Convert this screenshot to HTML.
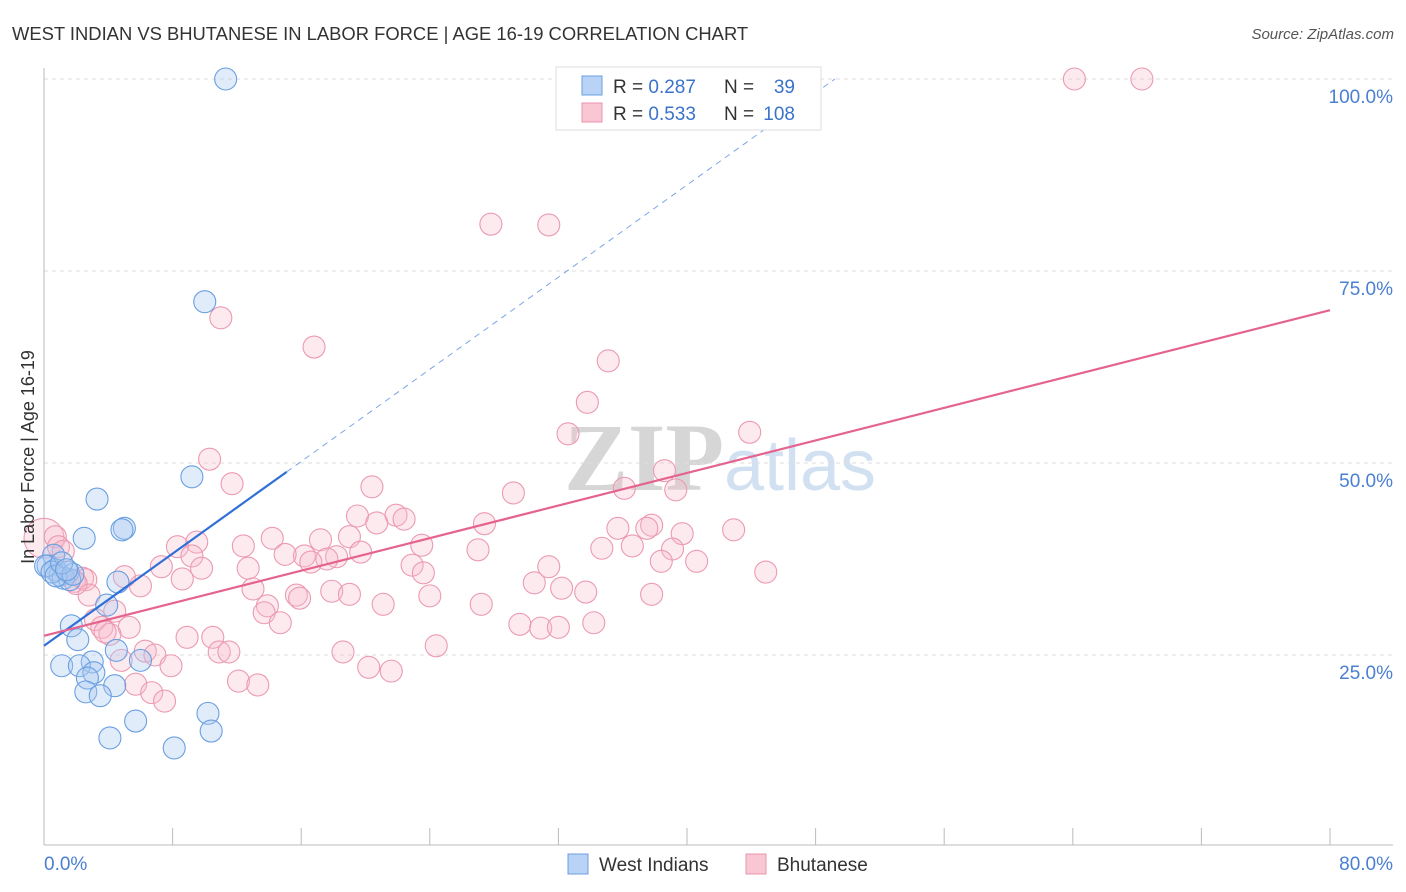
<!DOCTYPE html>
<html><head><meta charset="utf-8"><style>
body{margin:0;background:#fff;font-family:"Liberation Sans",sans-serif}
#c{position:relative;width:1406px;height:892px;overflow:hidden}
</style></head><body>
<div id="c">
<svg id="s" width="1406" height="892" xmlns="http://www.w3.org/2000/svg">
<text x="12" y="40" font-size="18.4" fill="#333">WEST INDIAN VS BHUTANESE IN LABOR FORCE | AGE 16-19 CORRELATION CHART</text>
<text x="1394" y="39" font-size="15" fill="#555" font-style="italic" text-anchor="end">Source: ZipAtlas.com</text>
<text x="720" y="490" font-size="96" fill="#d8d8d8" text-anchor="middle" font-family="Liberation Serif,serif"><tspan fill="#d6d6d6" font-weight="bold">ZIP</tspan><tspan fill="#d2e1f2" font-family="Liberation Sans,sans-serif" font-size="72">atlas</tspan></text>
<g id="grid"></g><g id="marks"></g><g id="lines"></g>
<text transform="translate(34,457) rotate(-90)" font-size="18" fill="#333" text-anchor="middle">In Labor Force | Age 16-19</text>
<g>
<rect x="556" y="67" width="265" height="63" fill="#fff" stroke="#ddd"/>
<rect x="582" y="76" width="20" height="19" fill="#b8d3f5" stroke="#6a9fe0"/>
<rect x="582" y="103" width="20" height="19" fill="#f9c6d4" stroke="#eb94ad"/>
<text x="613" y="93" font-size="19" fill="#333">R = <tspan fill="#3a73c9">0.287</tspan></text>
<text x="724" y="93" font-size="19" fill="#333">N =</text>
<text x="795" y="93" font-size="19" fill="#3a73c9" text-anchor="end">39</text>
<text x="613" y="120" font-size="19" fill="#333">R = <tspan fill="#3a73c9">0.533</tspan></text>
<text x="724" y="120" font-size="19" fill="#333">N =</text>
<text x="795" y="120" font-size="19" fill="#3a73c9" text-anchor="end">108</text>
</g>
<g>
<rect x="568" y="854" width="20" height="20" fill="#b8d3f5" stroke="#6a9fe0"/>
<text x="599" y="871" font-size="19" fill="#333">West Indians</text>
<rect x="746" y="854" width="20" height="20" fill="#f9c6d4" stroke="#eb94ad"/>
<text x="777" y="871" font-size="19" fill="#333">Bhutanese</text>
</g>
</svg></div>
<script>
const xTicks=[0,10,20,30,40,50,60,70,80];
const yTicks=[25,50,75,100];
const xLabels=["0.0%","80.0%"];
const blueX=[11.3,10.0,9.2,3.3,5.0,4.85,2.5,0.6,0.25,0.7,1.0,1.5,1.2,1.6,4.6,3.9,1.7,2.1,4.5,6.0,3.0,1.1,2.2,3.1,2.7,4.4,2.6,3.5,5.7,10.2,4.1,10.4,8.1,0.1,0.5,0.75,1.8,1.1,1.4];
const blueY=[100,71.0,48.2,45.3,41.5,41.3,40.2,38.0,36.6,36.1,35.4,35.8,35.0,34.8,34.5,31.5,28.8,27.0,25.6,24.3,24.1,23.6,23.6,22.7,22.0,21.0,20.2,19.7,16.4,17.4,14.2,15.1,12.9,36.6,35.8,35.3,35.5,37.0,36.1];
const pinkX=[0,64.1,68.3,27.8,31.4,11.0,16.8,35.1,33.8,32.6,43.9,10.3,38.6,11.7,20.4,36.1,29.2,39.3,19.5,21.9,22.4,20.7,27.4,37.8,37.5,35.7,42.9,39.7,19.0,17.2,14.2,9.5,0.7,0.9,12.4,23.5,36.6,34.7,27.0,8.3,19.7,39.1,16.2,15.0,9.2,18.2,17.6,16.6,38.4,40.6,31.4,7.3,9.8,22.9,12.7,44.9,23.6,5.0,2.4,1.9,2.6,8.6,30.5,17.9,6.0,13.0,32.2,33.7,19.0,15.7,24.0,37.8,2.8,15.9,21.1,27.2,13.9,4.4,13.7,3.2,14.7,3.6,5.3,34.2,29.6,30.9,32.0,4.1,3.8,8.9,10.5,24.4,6.3,6.9,10.9,11.5,18.6,4.8,7.9,20.2,21.6,5.7,12.1,13.3,6.7,7.5,1.2,2.0];
const pinkY=[40.2,100,100,81.1,81.0,68.9,65.1,63.3,57.9,53.8,54.0,50.5,49.0,47.3,46.9,46.7,46.1,46.5,43.1,43.2,42.7,42.2,42.1,41.9,41.5,41.5,41.3,40.8,40.4,40.0,40.2,39.7,40.4,39.1,39.2,39.3,39.2,38.9,38.7,39.1,38.4,38.8,37.9,38.1,37.9,37.8,37.5,37.1,37.2,37.2,36.5,36.5,36.3,36.7,36.3,35.8,35.7,35.2,35.0,34.6,34.8,34.9,34.4,33.3,34.0,33.6,33.7,33.2,32.9,32.8,32.7,32.9,32.8,32.4,31.6,31.6,31.4,30.7,30.5,29.6,29.2,28.6,28.6,29.2,29.0,28.5,28.6,27.7,28.0,27.3,27.3,26.2,25.5,25.0,25.4,25.4,25.4,24.3,23.6,23.4,22.9,21.2,21.6,21.1,20.1,19.0,38.5,34.3];
const blueTrend=[26.2,1.5];
const pinkTrend=[27.5,0.53];
const X=v=>44+v*(1286/80), Y=v=>847-v*7.68;
const NS="http://www.w3.org/2000/svg";
function mk(t,a,p){const e=document.createElementNS(NS,t);for(const k in a)e.setAttribute(k,a[k]);p.appendChild(e);return e;}
const grid=document.getElementById('grid');
yTicks.forEach(v=>{
 const l=mk('line',{x1:44,x2:1393,y1:Y(v),y2:Y(v),stroke:'#ddd','stroke-dasharray':'4,4'},grid);
 
 
 const t=mk('text',{x:1393,y:Y(v)+24,'font-size':19,fill:'#4a7fd1','text-anchor':'end'},grid);
 t.textContent=v.toFixed(1)+'%';
 
 
});
mk('line',{x1:44,x2:44,y1:68,y2:845,stroke:'#bbb'},grid);
mk('line',{x1:44,x2:1393,y1:845,y2:845,stroke:'#bbb'},grid);
for(let i=0;i<=10;i++){const x=X(i*8);mk('line',{x1:x,x2:x,y1:828,y2:845,stroke:'#bbb'},grid);}
[[0,'start',44],[80,'end',1393]].forEach((d,i)=>{
 const t=mk('text',{x:d[2],y:870,'font-size':19,fill:'#4a7fd1','text-anchor':d[1]},grid);
 t.textContent=xLabels[i];
 
 
});
const marks=document.getElementById('marks');
pinkX.forEach((v,i)=>{
 const c=mk('circle',{cx:X(v),cy:Y(pinkY[i]),r:i==0?20:11,fill:'#f7b8ca','fill-opacity':0.3,stroke:'#eb9ab2','stroke-width':1.1},marks);
 
 
});
blueX.forEach((v,i)=>{
 const c=mk('circle',{cx:X(v),cy:Y(blueY[i]),r:11,fill:'#a9c8f0','fill-opacity':0.35,stroke:'#6a9fe0','stroke-width':1.1},marks);
 
 
});
const lines=document.getElementById('lines');
const bEnd=15.1, bDash=(100-blueTrend[0])/blueTrend[1];
let l=mk('line',{x1:X(0),y1:Y(blueTrend[0]),x2:X(bEnd),y2:Y(blueTrend[0]+blueTrend[1]*bEnd),stroke:'#2f6fd6','stroke-width':2.2},lines);


l=mk('line',{x1:X(bEnd),y1:Y(blueTrend[0]+blueTrend[1]*bEnd),x2:X(bDash),y2:Y(100),stroke:'#7aa6e6','stroke-width':1,'stroke-dasharray':'6,5'},lines);


l=mk('line',{x1:X(0),y1:Y(pinkTrend[0]),x2:X(80),y2:Y(pinkTrend[0]+pinkTrend[1]*80),stroke:'#e5638f','stroke-width':2.2},lines);


</script>
</body></html>
